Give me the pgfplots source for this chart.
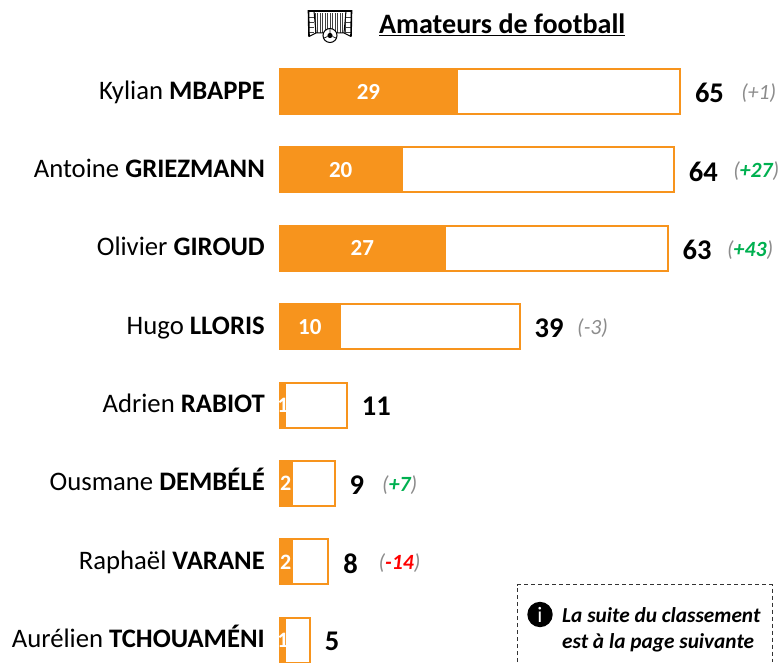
\documentclass[border=0pt]{standalone}
\usepackage{fontspec}
\setmainfont{Carlito}
\usepackage{pgfplots}
\usepackage{pgfplotstable}
\pgfplotsset{compat=1.18}
\definecolor{orangebar}{HTML}{F7941D}
\definecolor{greydelta}{HTML}{8C8C8C}
\definecolor{greendelta}{HTML}{00B050}
\definecolor{reddelta}{HTML}{FF0000}

\pgfplotstableread{
row total amateurs
0 65 29
1 64 20
2 63 27
3 39 10
4 11 1.1
5 9 2.2
6 8 2.2
7 5 1.1
}\scores

\newcommand{\evol}[4]{\node[anchor=west,inner sep=0pt,yshift=-1.5pt,font=\fontsize{21.7}{21.7}\selectfont\itshape] at (axis cs:#1,#2)
  {\textcolor{greydelta}{(}\textcolor{#3}{#4}\textcolor{greydelta}{)}};}
\newcommand{\inlabel}[4]{\node[text=white,inner sep=0pt,font=\fontsize{#4}{#4}\selectfont\bfseries] at (axis cs:#1,#2) {#3};}

\begin{document}
\begin{tikzpicture}
\path[use as bounding box] (0pt,0pt) rectangle (779pt,662pt);
\begin{axis}[
  at={(279pt,0pt)}, anchor=south west,
  scale only axis, width=500pt, height=662pt,
  xmin=0, xmax=81.04,
  ymin=-1.167, ymax=7.277,
  y dir=reverse,
  axis line style={draw=none},
  major tick length=0pt,
  xtick=\empty,
  ytick={0,1,2,3,4,5,6,7},
  yticklabels={Kylian \textbf{MBAPPE},Antoine \textbf{GRIEZMANN},Olivier \textbf{GIROUD},Hugo \textbf{LLORIS},Adrien \textbf{RABIOT},Ousmane \textbf{DEMBÉLÉ},Raphaël \textbf{VARANE},Aurélien \textbf{TCHOUAMÉNI}},
  yticklabel style={font=\fontsize{26.7}{26.7}\selectfont, anchor=base east, inner sep=0pt, xshift=-14pt, yshift=-7.5pt},
  xbar, bar width=45pt, bar shift=0pt,
  /pgf/number format/assume math mode=true,
]
\addplot[draw=orangebar, line width=2pt, fill=white,
  nodes near coords, point meta=x,
  every node near coord/.style={anchor=west, xshift=14pt, yshift=-1.5pt, inner sep=0pt, text=black,
    font=\fontsize{28.5}{28.5}\selectfont\bfseries}]
  table[x=total, y=row] {\scores};
\addplot[draw=orangebar, line width=1pt, fill=orangebar]
  table[x=amateurs, y=row] {\scores};
\inlabel{14.5}{0}{29}{23}
\inlabel{10}{1}{20}{23}
\inlabel{13.5}{2}{27}{23}
\inlabel{5}{3}{10}{23}
\inlabel{0.65}{4}{1}{22}
\inlabel{1.1}{5}{2}{22}
\inlabel{1.1}{6}{2}{22}
\inlabel{0.65}{7}{1}{22}
\evol{74.9}{0}{greydelta}{+1}
\evol{73.6}{1}{greendelta}{\textbf{+27}}
\evol{72.6}{2}{greendelta}{\textbf{+43}}
\evol{48.3}{3}{greydelta}{-3}
\evol{16.7}{5}{greendelta}{\textbf{+7}}
\evol{16.1}{6}{reddelta}{\textbf{-14}}
\end{axis}
\begin{scope}[shift={(0pt,662pt)},x=1pt,y=-1pt]
  % titre
  \node[anchor=base west,inner sep=0pt,font=\fontsize{28.1}{28.1}\selectfont\bfseries] at (379,34) {\underline{Amateurs de football}};
  % but
  \draw[line width=0.4pt,black!75,step=2.5] (314,13) grid (346,33);
  \draw[line width=0.4pt,black!75] (309,17) -- (314,17) (309,22) -- (314,22) (309,27) -- (314,27) (309,32) -- (314,32)
    (346,17) -- (351,17) (346,22) -- (351,22) (346,27) -- (351,27) (346,32) -- (351,32);
  \draw[line width=1.6pt] (309,36.5) -- (308.5,11) -- (351.5,11) -- (351,36.5);
  \draw[line width=1pt] (309,36.5) -- (316,33) -- (344,33) -- (351,36.5) (314,11) -- (316,33) (346,11) -- (344,33);
  \filldraw[fill=white,draw=black,line width=1pt] (330,35.5) circle (7);
  \fill (330,35.5) circle (2.6);
  \draw[line width=0.7pt] (330,33) -- (330,29) (327.6,36.5) -- (324,38) (332.4,36.5) -- (336,38);
  % encadre
  \draw[line width=1pt,dash pattern=on 4pt off 3pt,black!80] (517.5,662) -- (517.5,584.5) -- (772,584.5) -- (772,662);
  \fill (540,614.5) circle (12.7);
  \node[text=white,inner sep=0pt,font=\fontsize{22}{22}\selectfont] at (540,614.5) {i};
  \node[anchor=base west,inner sep=0pt,font=\fontsize{21.3}{21.3}\selectfont\bfseries\itshape] at (562,622) {La suite du classement};
  \node[anchor=base west,inner sep=0pt,font=\fontsize{21.3}{21.3}\selectfont\bfseries\itshape] at (562,648) {est à la page suivante};
\end{scope}
\end{tikzpicture}
\end{document}
